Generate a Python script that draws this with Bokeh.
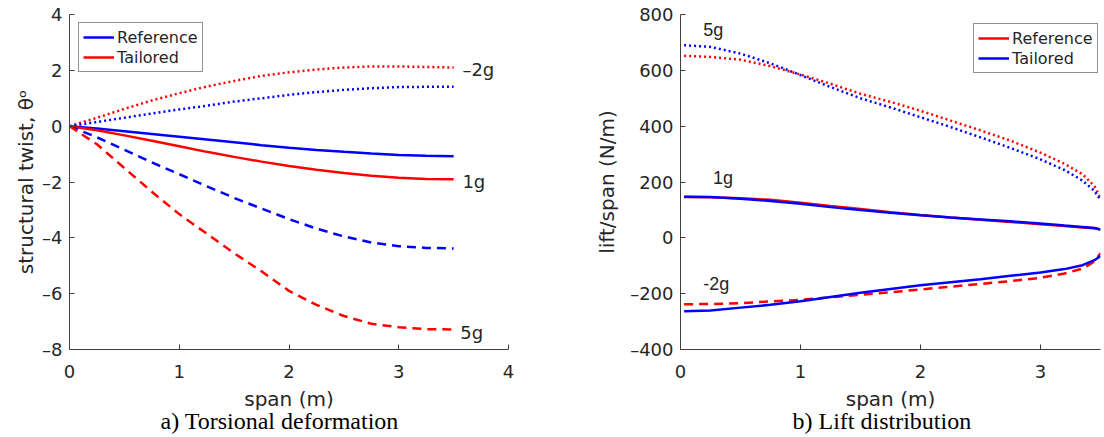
from bokeh.plotting import figure
from bokeh.layouts import row
from bokeh.models import Label, Legend, LegendItem, FixedTicker, Range1d, Title
from bokeh.embed import file_html
from bokeh.resources import INLINE

# ---------------- Panel a: torsional deformation ----------------
span_a = [0.0, 0.25, 0.5, 0.75, 1.0, 1.25, 1.5, 1.75, 2.0, 2.25, 2.5, 2.75, 3.0, 3.25, 3.5]
twist_ref_m2g = [0, 0.15, 0.3, 0.45, 0.6, 0.73, 0.88, 1.0, 1.12, 1.22, 1.3, 1.36, 1.4, 1.41, 1.41]
twist_tail_m2g = [0, 0.3, 0.62, 0.92, 1.18, 1.42, 1.62, 1.8, 1.93, 2.03, 2.1, 2.14, 2.14, 2.12, 2.1]
twist_ref_1g = [0, -0.08, -0.18, -0.28, -0.38, -0.48, -0.58, -0.68, -0.77, -0.85, -0.92, -0.98, -1.03, -1.06, -1.08]
twist_tail_1g = [0, -0.15, -0.33, -0.52, -0.72, -0.92, -1.1, -1.27, -1.43, -1.56, -1.68, -1.78, -1.85, -1.89, -1.9]
twist_ref_5g = [0, -0.4, -0.85, -1.3, -1.72, -2.15, -2.57, -2.95, -3.33, -3.67, -3.95, -4.17, -4.3, -4.36, -4.38]
twist_tail_5g = [0, -0.65, -1.5, -2.35, -3.15, -3.85, -4.55, -5.2, -5.9, -6.4, -6.8, -7.08, -7.2, -7.27, -7.28]
ticks_a_x = [0, 1, 2, 3, 4]
ticks_a_y = [-8, -6, -4, -2, 0, 2, 4]

# ---------------- Panel b: lift distribution ----------------
span_b = [0.03, 0.25, 0.5, 0.75, 1.0, 1.25, 1.5, 1.75, 2.0, 2.25, 2.5, 2.75, 3.0, 3.2, 3.35, 3.45, 3.5]
lift_ref_5g = [652, 648, 638, 615, 585, 552, 516, 487, 455, 420, 385, 348, 305, 265, 228, 185, 142]
lift_tail_5g = [690, 684, 660, 625, 583, 540, 500, 467, 432, 397, 360, 322, 281, 243, 205, 168, 135]
lift_ref_1g = [146, 145, 142, 136, 126, 114, 103, 92, 82, 73, 65, 57, 49, 42, 37, 34, 30]
lift_tail_1g = [147, 146, 140, 132, 122, 110, 100, 90, 81, 73, 66, 59, 51, 44, 39, 35, 30]
lift_ref_m2g = [-238, -237, -234, -228, -222, -213, -204, -195, -185, -175, -165, -155, -143, -128, -110, -85, -55]
lift_tail_m2g = [-263, -260, -250, -240, -227, -212, -197, -183, -170, -159, -148, -136, -124, -112, -98, -80, -65]
ticks_b_x = [0, 1, 2, 3]
ticks_b_y = [-400, -200, 0, 200, 400, 600, 800]

BLUE = "#0000FF"
RED = "#FF0000"
INK = "#262626"
AXIS = "#404040"
FONT = "DejaVu Sans"


def dash(v):
    return str(v).replace("-", "\u2013")


def style(p, xt, yt, ylab_standoff):
    p.xaxis.ticker = FixedTicker(ticks=xt)
    p.yaxis.ticker = FixedTicker(ticks=yt)
    p.yaxis.major_label_overrides = {v: dash(v) for v in yt}
    for ax in (p.xaxis[0], p.yaxis[0]):
        ax.axis_line_color = AXIS
        ax.axis_line_width = 1
        ax.major_tick_line_color = AXIS
        ax.major_tick_in = 5
        ax.major_tick_out = 0
        ax.minor_tick_line_color = None
        ax.major_label_text_font = FONT
        ax.major_label_text_font_size = "18px"
        ax.major_label_text_color = INK
        ax.axis_label_text_font = FONT
        ax.axis_label_text_font_size = "20px"
        ax.axis_label_text_font_style = "normal"
        ax.axis_label_text_color = INK
    p.xaxis.major_label_standoff = 15
    p.yaxis.major_label_standoff = 7
    p.xaxis.axis_label_standoff = 6
    p.yaxis.axis_label_standoff = ylab_standoff
    p.xgrid.visible = False
    p.ygrid.visible = False
    p.outline_line_color = None
    p.background_fill_color = "white"
    p.border_fill_color = "white"


def style_legend(lg):
    lg.label_text_font = FONT
    lg.label_text_font_size = "16px"
    lg.label_text_color = INK
    lg.border_line_color = INK
    lg.border_line_width = 1
    lg.background_fill_color = "white"
    lg.background_fill_alpha = 1
    lg.glyph_width = 31
    lg.glyph_height = 20
    lg.label_height = 20
    lg.label_standoff = 3
    lg.padding = 4
    lg.spacing = 0
    lg.margin = 0


def caption(p, text, offset):
    t = Title(text=text, align="left", offset=offset, standoff=-16,
              text_font="Liberation Serif", text_font_size="24px",
              text_font_style="normal", text_color="black")
    p.add_layout(t, "below")


# ---------- left figure ----------
pa = figure(width=560, height=437, x_range=Range1d(0, 4), y_range=Range1d(-8, 4),
            output_backend="svg", toolbar_location=None,
            min_border_left=69, min_border_right=52, min_border_top=14, min_border_bottom=88,
            x_axis_label="span (m)", y_axis_label="structural twist, \u03b8\u1d52")
style(pa, ticks_a_x, ticks_a_y, 1)

pa.line(span_a, twist_tail_m2g, color=RED, line_width=2.5, line_dash="2 3")
pa.line(span_a, twist_ref_m2g, color=BLUE, line_width=2.5, line_dash="2 3")
r_ref1 = pa.line(span_a, twist_ref_1g, color=BLUE, line_width=2.5)
r_tail1 = pa.line(span_a, twist_tail_1g, color=RED, line_width=2.5)
pa.line(span_a, twist_ref_5g, color=BLUE, line_width=2.5, line_dash="9 6")
pa.line(span_a, twist_tail_5g, color=RED, line_width=2.5, line_dash="9 6")

for txt, x, y in [("\u20132g", 3.58, 2.03), ("1g", 3.58, -1.98), ("5g", 3.56, -7.38)]:
    pa.add_layout(Label(x=x, y=y, text=txt, text_font=FONT, text_font_size="18px",
                        text_color=INK, text_baseline="middle", text_align="left"))

lga = Legend(items=[LegendItem(label="Reference", renderers=[r_ref1]),
                    LegendItem(label="Tailored", renderers=[r_tail1])],
             location=(9, 277))
style_legend(lga)
pa.add_layout(lga)
caption(pa, "a) Torsional deformation", 91)

# ---------- right figure ----------
pb = figure(width=544, height=437, x_range=Range1d(0, 3.5), y_range=Range1d(-400, 800),
            output_backend="svg", toolbar_location=None,
            min_border_left=120, min_border_right=4, min_border_top=14, min_border_bottom=88,
            x_axis_label="span (m)", y_axis_label="lift/span (N/m)")
style(pb, ticks_b_x, ticks_b_y, 8)

pb.line(span_b, lift_ref_5g, color=RED, line_width=2.5, line_dash="2 3")
pb.line(span_b, lift_tail_5g, color=BLUE, line_width=2.5, line_dash="2 3")
r_ref_b = pb.line(span_b, lift_ref_1g, color=RED, line_width=2.5)
r_tail_b = pb.line(span_b, lift_tail_1g, color=BLUE, line_width=2.5)
pb.line(span_b, lift_ref_m2g, color=RED, line_width=2.5, line_dash="9 6")
pb.line(span_b, lift_tail_m2g, color=BLUE, line_width=2.5)

for txt, x, y in [("5g", 0.19, 745), ("1g", 0.27, 214), ("-2g", 0.19, -166)]:
    pb.add_layout(Label(x=x, y=y, text=txt, text_font="Liberation Sans", text_font_size="18px",
                        text_color=INK, text_baseline="middle", text_align="left"))

lgb = Legend(items=[LegendItem(label="Reference", renderers=[r_ref_b]),
                    LegendItem(label="Tailored", renderers=[r_tail_b])],
             location=(293, 276))
style_legend(lgb)
pb.add_layout(lgb)
caption(pb, "b) Lift distribution", 112)

layout = row(pa, pb)
open("out.html", "w").write(file_html(layout, INLINE))
